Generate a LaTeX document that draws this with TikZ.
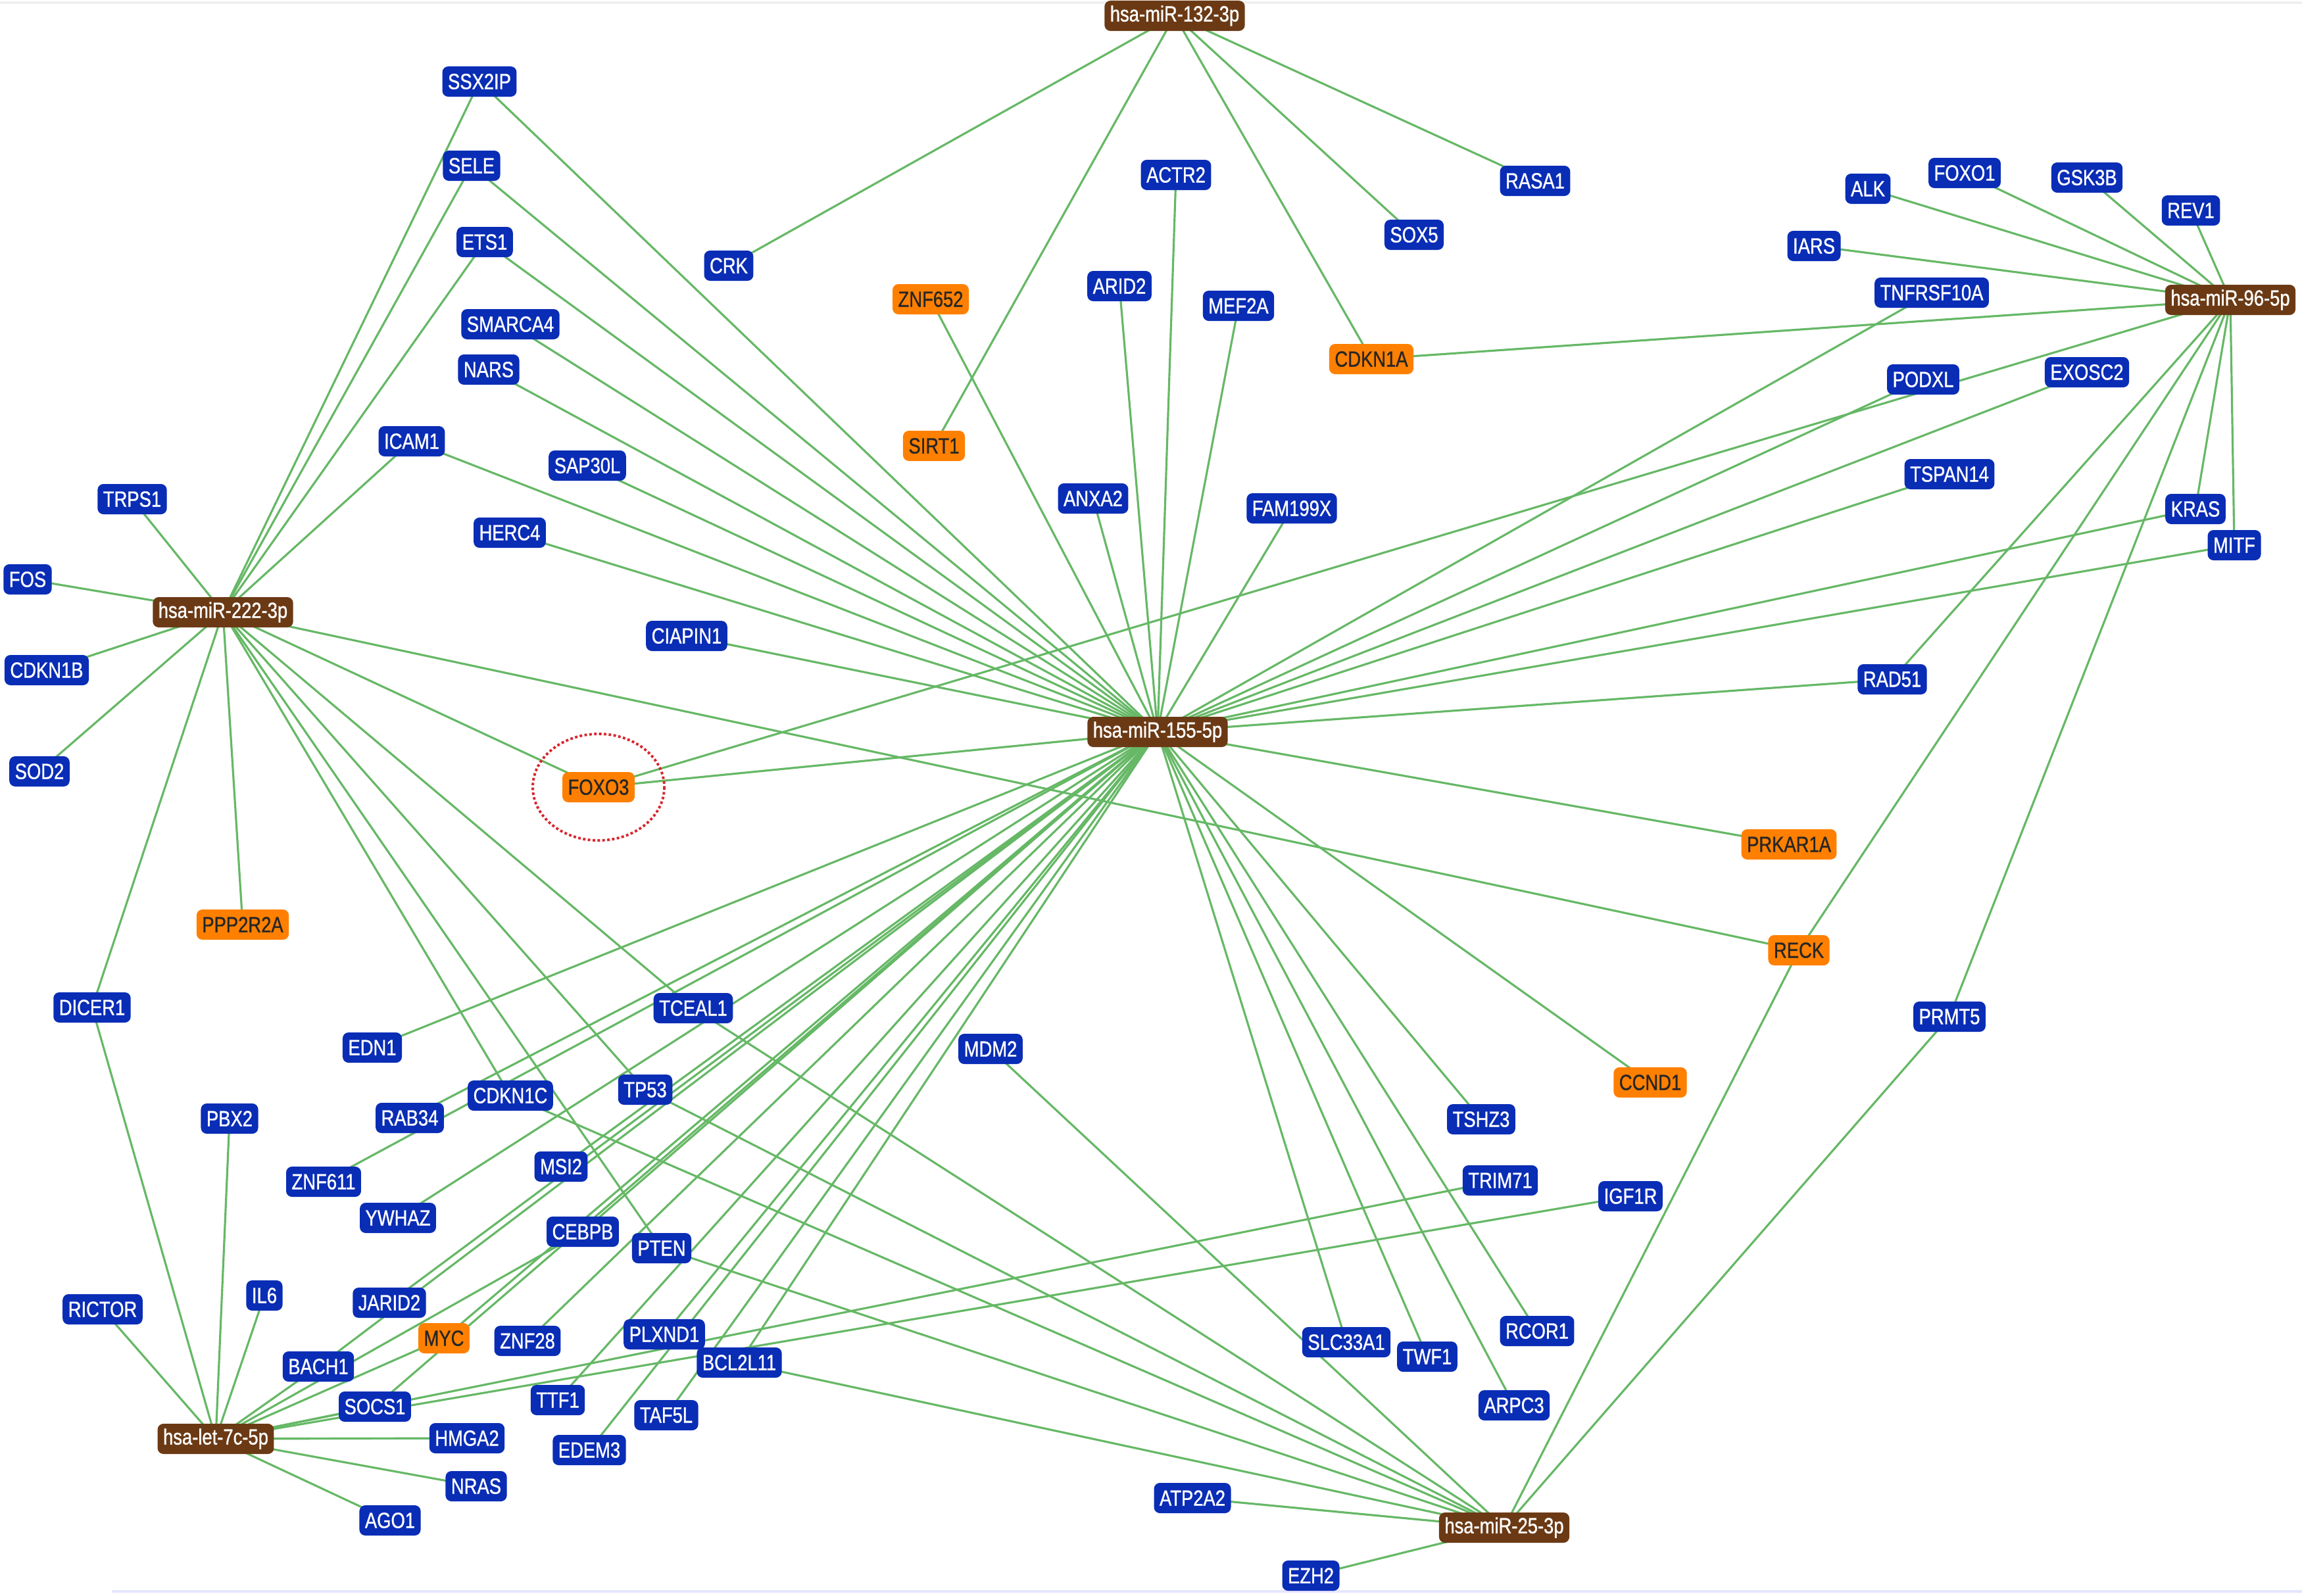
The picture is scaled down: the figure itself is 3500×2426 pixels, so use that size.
\documentclass[tikz,border=0pt]{standalone}
\usepackage{fontspec}
\setmainfont{Liberation Sans}[FakeStretch=0.82,FakeBold=0.9]
\usepackage{tikz}
\usetikzlibrary{backgrounds}

\definecolor{geneblue}{HTML}{0A2DB6}
\definecolor{hubbrown}{HTML}{6B3A15}
\definecolor{hitorange}{HTML}{FF8000}
\definecolor{linkgreen}{HTML}{66B866}
\definecolor{circlered}{HTML}{D9262E}

\begin{document}
\begin{tikzpicture}[x=0.01cm, y=-0.01cm,
	nodebox/.style={rounded corners=0.09cm, inner xsep=0.085cm, inner ysep=0pt,
		minimum height=0.46cm, font=\fontsize{9.5}{10}\selectfont},
	gene/.style={nodebox, fill=geneblue, text=white},
	hit/.style={nodebox, fill=hitorange, text=black!85},
	mirna/.style={nodebox, fill=hubbrown, text=white},
	link/.style={linkgreen, line width=0.9pt}]

	\useasboundingbox (0,0) rectangle (3500,2426);

	% microRNA hubs
	\node[mirna] (mir132) at (1786,24) {hsa-miR-132-3p};
	\node[mirna] (mir222) at (339,931) {hsa-miR-222-3p};
	\node[mirna] (mir155) at (1760,1113) {hsa-miR-155-5p};
	\node[mirna] (mir96) at (3391,456) {hsa-miR-96-5p};
	\node[mirna] (let7c) at (328,2188) {hsa-let-7c-5p};
	\node[mirna] (mir25) at (2287,2323) {hsa-miR-25-3p};

	% highlighted targets
	\node[hit] (ZNF652) at (1415,455) {ZNF652};
	\node[hit] (SIRT1) at (1420,678) {SIRT1};
	\node[hit] (CDKN1A) at (2085,546) {CDKN1A};
	\node[hit] (FOXO3) at (910,1197) {FOXO3};
	\node[hit] (PPP2R2A) at (369,1406) {PPP2R2A};
	\node[hit] (PRKAR1A) at (2720,1284) {PRKAR1A};
	\node[hit] (RECK) at (2735,1445) {RECK};
	\node[hit] (CCND1) at (2509,1646) {CCND1};
	\node[hit] (MYC) at (675,2035) {MYC};

	% other targets, top left
	\node[gene] (SSX2IP) at (729,124) {SSX2IP};
	\node[gene] (SELE) at (717,252) {SELE};
	\node[gene] (ETS1) at (737,368) {ETS1};
	\node[gene] (SMARCA4) at (776,493) {SMARCA4};
	\node[gene] (NARS) at (743,562) {NARS};
	\node[gene] (ICAM1) at (626,671) {ICAM1};
	\node[gene] (SAP30L) at (893,708) {SAP30L};
	\node[gene] (TRPS1) at (201,759) {TRPS1};
	\node[gene] (HERC4) at (775,810) {HERC4};
	\node[gene] (FOS) at (42,881) {FOS};
	\node[gene] (CDKN1B) at (71,1019) {CDKN1B};
	\node[gene] (SOD2) at (60,1173) {SOD2};
	\node[gene] (CIAPIN1) at (1044,967) {CIAPIN1};
	\node[gene] (CRK) at (1108,404) {CRK};

	% top middle
	\node[gene] (ACTR2) at (1788,266) {ACTR2};
	\node[gene] (ARID2) at (1702,435) {ARID2};
	\node[gene] (MEF2A) at (1883,465) {MEF2A};
	\node[gene] (RASA1) at (2334,275) {RASA1};
	\node[gene] (SOX5) at (2150,357) {SOX5};
	\node[gene] (ANXA2) at (1662,758) {ANXA2};
	\node[gene] (FAM199X) at (1964,773) {FAM199X};

	% top right
	\node[gene] (ALK) at (2840,287) {ALK};
	\node[gene] (FOXO1) at (2987,263) {FOXO1};
	\node[gene] (GSK3B) at (3173,270) {GSK3B};
	\node[gene] (REV1) at (3331,320) {REV1};
	\node[gene] (IARS) at (2758,374) {IARS};
	\node[gene] (TNFRSF10A) at (2937,445) {TNFRSF10A};
	\node[gene] (PODXL) at (2924,577) {PODXL};
	\node[gene] (EXOSC2) at (3173,566) {EXOSC2};
	\node[gene] (TSPAN14) at (2964,721) {TSPAN14};
	\node[gene] (KRAS) at (3338,774) {KRAS};
	\node[gene] (MITF) at (3397,829) {MITF};
	\node[gene] (RAD51) at (2877,1033) {RAD51};
	\node[gene] (PRMT5) at (2964,1546) {PRMT5};

	% bottom left
	\node[gene] (DICER1) at (140,1532) {DICER1};
	\node[gene] (EDN1) at (566,1593) {EDN1};
	\node[gene] (TCEAL1) at (1054,1533) {TCEAL1};
	\node[gene] (MDM2) at (1506,1595) {MDM2};
	\node[gene] (PBX2) at (349,1701) {PBX2};
	\node[gene] (RAB34) at (623,1700) {RAB34};
	\node[gene] (CDKN1C) at (776,1666) {CDKN1C};
	\node[gene] (TP53) at (981,1657) {TP53};
	\node[gene] (ZNF611) at (492,1797) {ZNF611};
	\node[gene] (MSI2) at (853,1774) {MSI2};
	\node[gene] (YWHAZ) at (605,1852) {YWHAZ};
	\node[gene] (CEBPB) at (886,1873) {CEBPB};
	\node[gene] (PTEN) at (1006,1898) {PTEN};
	\node[gene] (RICTOR) at (156,1991) {RICTOR};
	\node[gene] (IL6) at (402,1970) {IL6};
	\node[gene] (JARID2) at (592,1981) {JARID2};
	\node[gene] (ZNF28) at (802,2039) {ZNF28};
	\node[gene] (PLXND1) at (1010,2029) {PLXND1};
	\node[gene] (BCL2L11) at (1124,2072) {BCL2L11};
	\node[gene] (BACH1) at (484,2078) {BACH1};
	\node[gene] (SOCS1) at (570,2139) {SOCS1};
	\node[gene] (TTF1) at (848,2129) {TTF1};
	\node[gene] (HMGA2) at (710,2187) {HMGA2};
	\node[gene] (TAF5L) at (1013,2152) {TAF5L};
	\node[gene] (EDEM3) at (896,2205) {EDEM3};
	\node[gene] (NRAS) at (724,2260) {NRAS};
	\node[gene] (AGO1) at (593,2312) {AGO1};

	% bottom right
	\node[gene] (TSHZ3) at (2252,1702) {TSHZ3};
	\node[gene] (TRIM71) at (2281,1795) {TRIM71};
	\node[gene] (IGF1R) at (2479,1819) {IGF1R};
	\node[gene] (RCOR1) at (2337,2024) {RCOR1};
	\node[gene] (SLC33A1) at (2047,2041) {SLC33A1};
	\node[gene] (TWF1) at (2170,2063) {TWF1};
	\node[gene] (ARPC3) at (2302,2137) {ARPC3};
	\node[gene] (ATP2A2) at (1813,2278) {ATP2A2};
	\node[gene] (EZH2) at (1993,2396) {EZH2};

	% circle round FOXO3
	\draw[circlered, densely dotted, line width=1.1pt] (FOXO3.center) ellipse (100 and 81);

	\begin{pgfonlayer}{background}
		\fill[white] (0,0) rectangle (3500,2426);
		\draw[black!6, line width=1pt] (0,4) -- (3500,4);
		\draw[blue!10, line width=1.2pt] (170,2420) -- (3500,2420);

		% links of hsa-miR-132-3p
		\foreach \t in {CRK,SIRT1,CDKN1A,SOX5,RASA1}
			\draw[link] (mir132.center) -- (\t.center);

		% links of hsa-miR-96-5p
		\foreach \t in {ALK,FOXO1,GSK3B,REV1,IARS,CDKN1A,FOXO3,RAD51,RECK,PRMT5,KRAS,MITF}
			\draw[link] (mir96.center) -- (\t.center);

		% links of hsa-miR-155-5p
		\foreach \t in {ACTR2,ARID2,MEF2A,ANXA2,FAM199X,ZNF652,SSX2IP,SELE,ETS1,SMARCA4,NARS,ICAM1,SAP30L,HERC4,CIAPIN1,FOXO3,TNFRSF10A,PODXL,EXOSC2,TSPAN14,KRAS,MITF,RAD51,PRKAR1A,CCND1,TSHZ3,RCOR1,ARPC3,TWF1,SLC33A1,EDN1,RAB34,ZNF611,YWHAZ,MSI2,JARID2,BACH1,CEBPB,MYC,SOCS1,ZNF28,TTF1,PLXND1,EDEM3,TAF5L,BCL2L11}
			\draw[link] (mir155.center) -- (\t.center);

		% links of hsa-miR-222-3p
		\foreach \t in {SSX2IP,SELE,ETS1,ICAM1,TRPS1,FOS,CDKN1B,SOD2,DICER1,PPP2R2A,FOXO3,RECK,TCEAL1,TP53,PTEN,CDKN1C}
			\draw[link] (mir222.center) -- (\t.center);

		% links of hsa-let-7c-5p
		\foreach \t in {DICER1,PBX2,IL6,RICTOR,HMGA2,NRAS,AGO1,SOCS1,MYC,BACH1,CEBPB,TRIM71,IGF1R}
			\draw[link] (let7c.center) -- (\t.center);

		% links of hsa-miR-25-3p
		\foreach \t in {TCEAL1,TP53,CDKN1C,PTEN,BCL2L11,MDM2,ATP2A2,EZH2,RECK,PRMT5}
			\draw[link] (mir25.center) -- (\t.center);
	\end{pgfonlayer}
\end{tikzpicture}
\end{document}
